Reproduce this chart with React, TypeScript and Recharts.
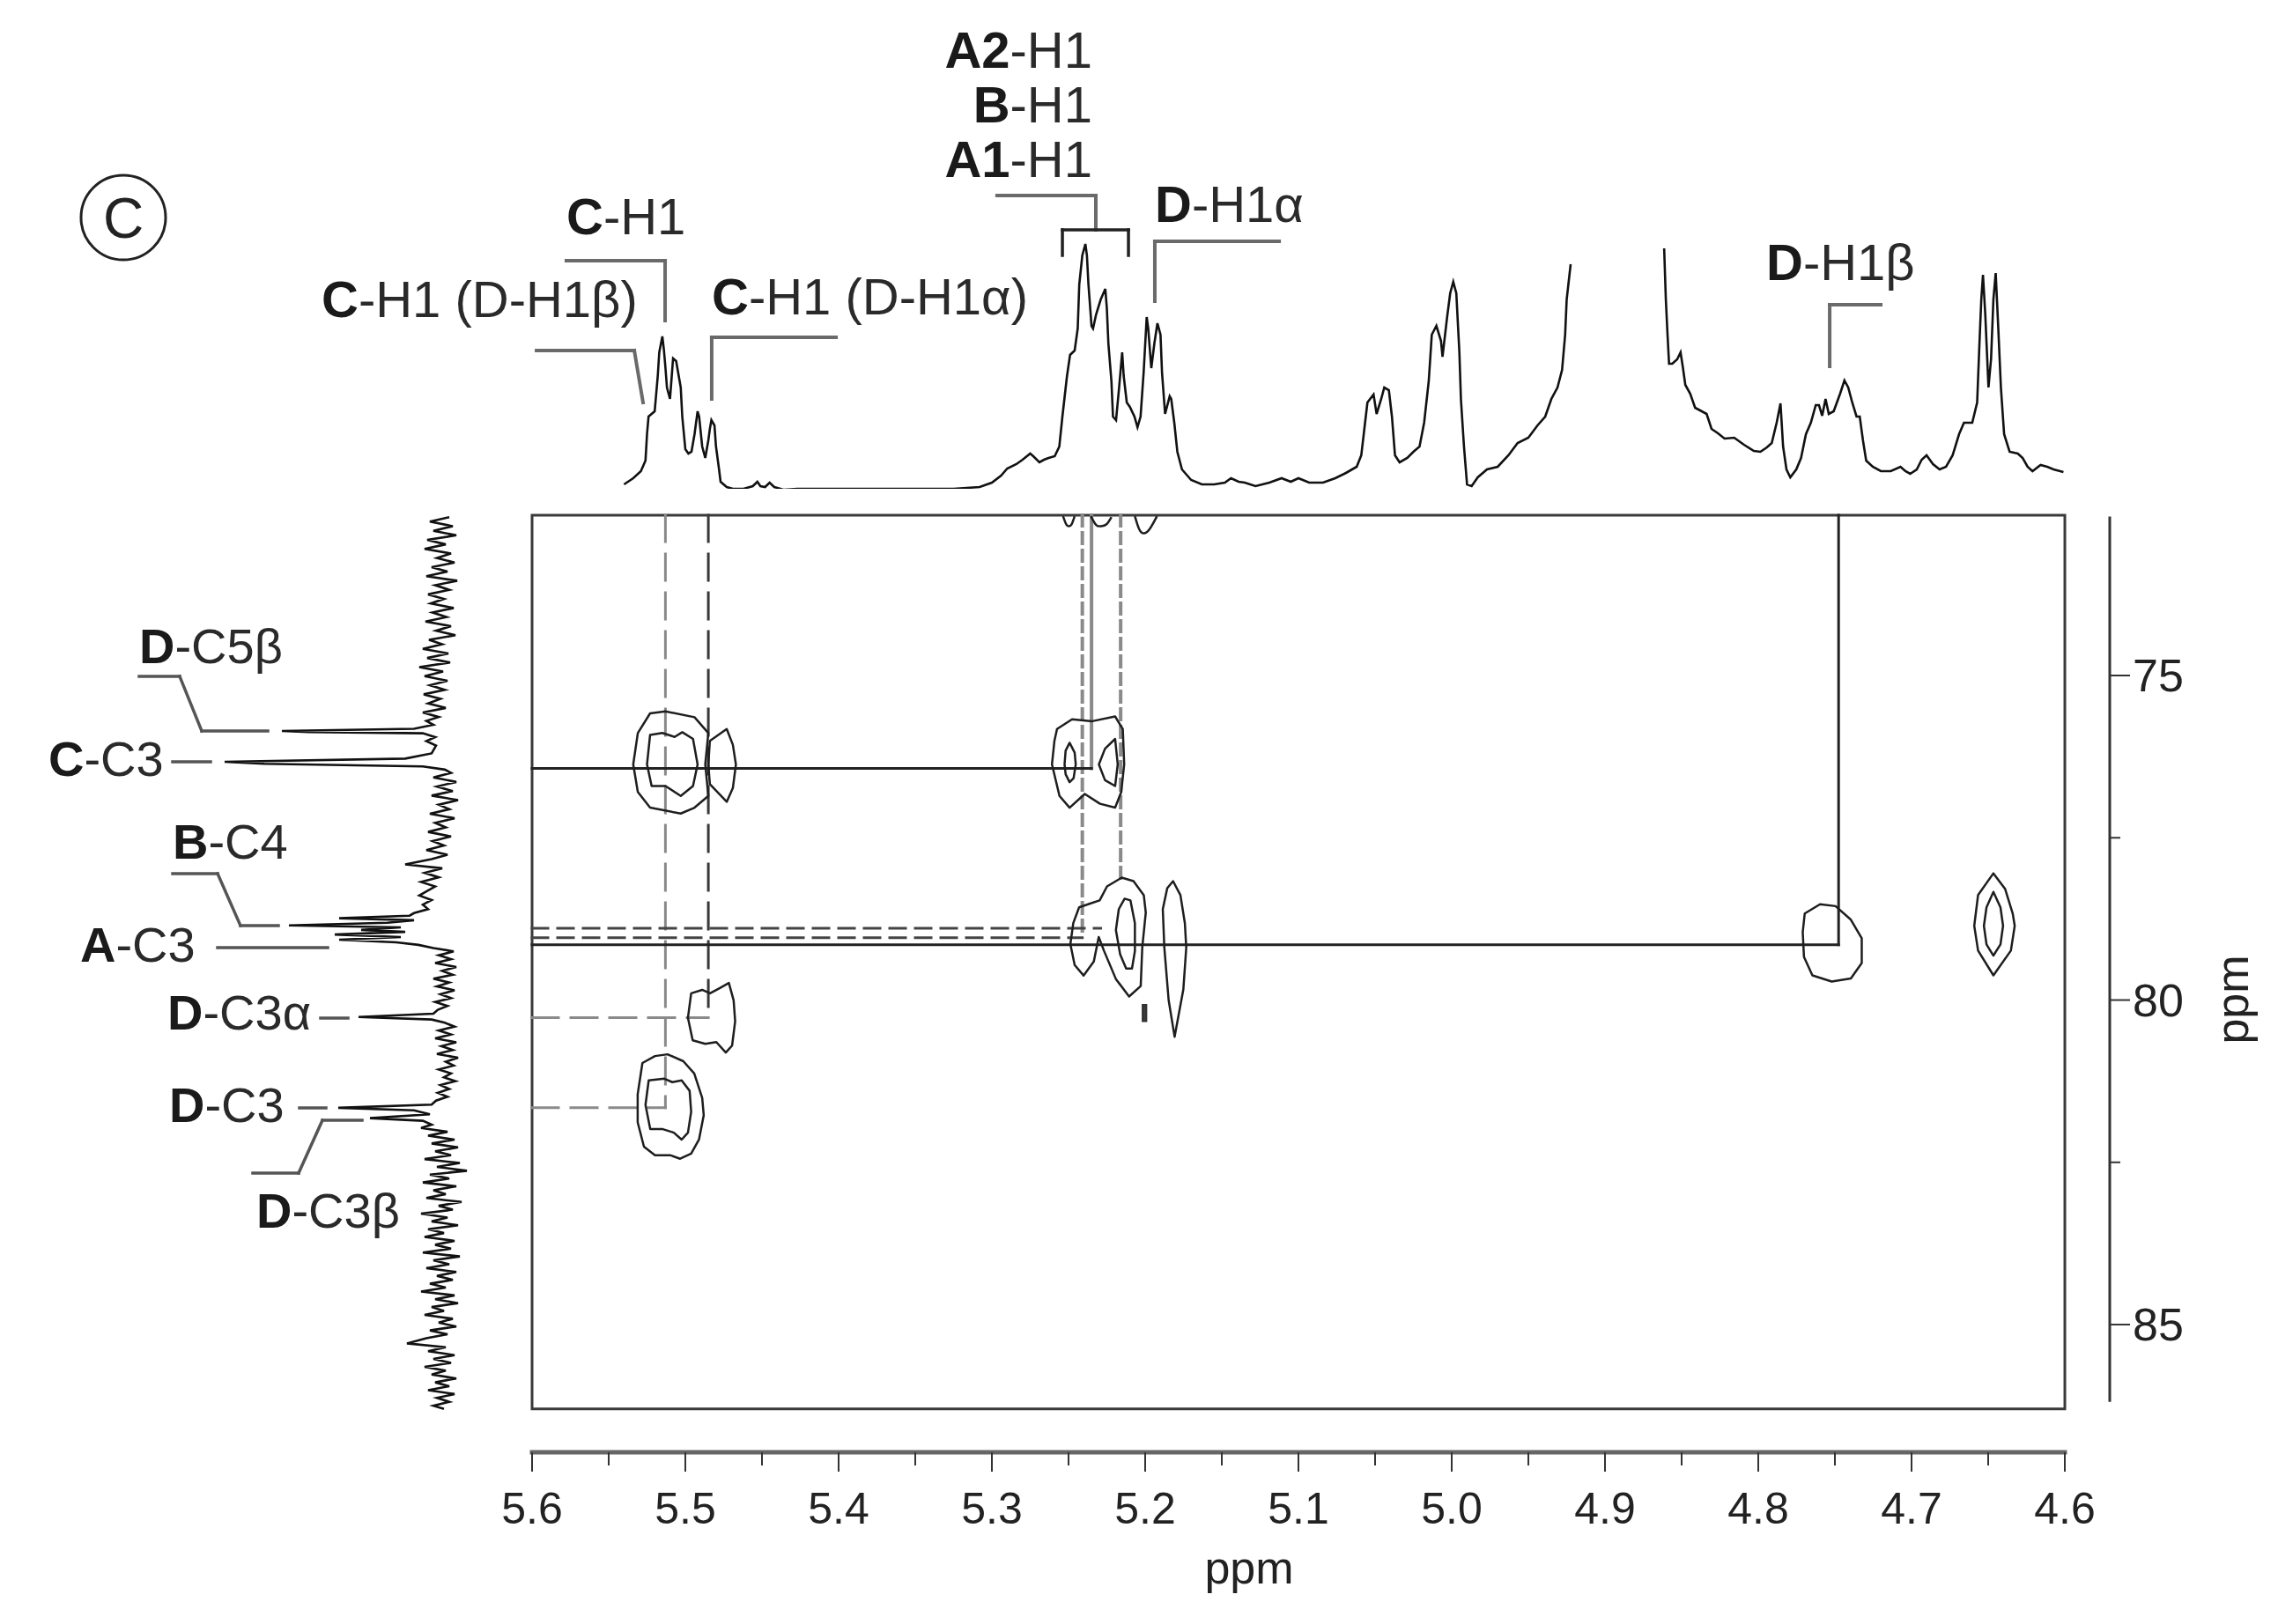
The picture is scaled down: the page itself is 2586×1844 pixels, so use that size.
import React from "react";
import {
  LineChart,
  Line,
  ScatterChart,
  Scatter,
  XAxis,
  YAxis,
  ReferenceLine,
  ReferenceArea,
} from "recharts";

const W = 2586;
const H = 1844;
const FONT = '"Liberation Sans", Arial, Helvetica, sans-serif';

// ---- axis ticks ----
const xTicks = [
  5.6, 5.55, 5.5, 5.45, 5.4, 5.35, 5.3, 5.25, 5.2, 5.15, 5.1, 5.05, 5.0, 4.95, 4.9, 4.85, 4.8, 4.75, 4.7,
  4.65, 4.6,
];
const yTicks = [75, 77.5, 80, 82.5, 85];

// ---- 1H projection on top: [ppm, intensity]; null = clipped water region ----
const protonTrace: [number, number | null][] = [
  [5.54, 5], [5.534, 12], [5.529, 20], [5.526, 32], [5.525, 62], [5.524, 82], [5.522, 85], [5.52, 88],
  [5.519, 108], [5.518, 128], [5.517, 155], [5.515, 173], [5.514, 158], [5.513, 138], [5.512, 115],
  [5.51, 102], [5.508, 148], [5.506, 145], [5.504, 125], [5.503, 115], [5.502, 82], [5.5, 45], [5.498, 40],
  [5.496, 42], [5.494, 62], [5.492, 88], [5.491, 82], [5.489, 48], [5.487, 35], [5.485, 55], [5.484, 68],
  [5.483, 78], [5.481, 72], [5.48, 48], [5.478, 22], [5.477, 8], [5.473, 2], [5.469, 0], [5.462, 0],
  [5.456, 3], [5.453, 8], [5.451, 3], [5.448, 2], [5.445, 7], [5.442, 2], [5.436, -1], [5.427, 0],
  [5.407, 0], [5.386, 0], [5.366, 0], [5.345, 0], [5.325, 0], [5.308, 2], [5.3, 7], [5.294, 15],
  [5.29, 23], [5.284, 28], [5.28, 33], [5.275, 40], [5.273, 37], [5.269, 30], [5.266, 33], [5.263, 35],
  [5.259, 37], [5.256, 48], [5.254, 82], [5.251, 128], [5.249, 152], [5.246, 157], [5.244, 182],
  [5.243, 232], [5.241, 265], [5.239, 278], [5.238, 265], [5.237, 232], [5.235, 185], [5.234, 182],
  [5.232, 198], [5.229, 215], [5.226, 227], [5.225, 205], [5.224, 165], [5.222, 122], [5.221, 82],
  [5.219, 78], [5.217, 115], [5.215, 155], [5.214, 128], [5.212, 98], [5.21, 93], [5.207, 82], [5.205, 70],
  [5.203, 82], [5.201, 132], [5.199, 195], [5.198, 182], [5.196, 137], [5.194, 165], [5.192, 188],
  [5.19, 175], [5.189, 132], [5.187, 85], [5.184, 105], [5.183, 102], [5.181, 75], [5.179, 42], [5.176, 22],
  [5.17, 10], [5.163, 5], [5.155, 5], [5.148, 7], [5.144, 12], [5.139, 8], [5.135, 7], [5.128, 3],
  [5.119, 7], [5.111, 12], [5.105, 8], [5.1, 12], [5.093, 7], [5.084, 7], [5.076, 12], [5.069, 18],
  [5.062, 25], [5.059, 38], [5.057, 68], [5.055, 98], [5.051, 107], [5.049, 85], [5.046, 102], [5.044, 115],
  [5.041, 112], [5.039, 82], [5.037, 38], [5.034, 30], [5.029, 35], [5.025, 42], [5.021, 48], [5.018, 75],
  [5.015, 122], [5.013, 175], [5.01, 185], [5.007, 168], [5.006, 150], [5.003, 195], [5.001, 222],
  [4.999, 235], [4.997, 222], [4.995, 155], [4.994, 102], [4.992, 48], [4.99, 5], [4.987, 3], [4.983, 13],
  [4.977, 22], [4.97, 25], [4.963, 38], [4.957, 52], [4.95, 58], [4.944, 72], [4.939, 82], [4.935, 102],
  [4.931, 115], [4.928, 135], [4.926, 175], [4.925, 215], [4.9224, 255],
  [4.89, null],
  [4.8614, 273], [4.8603, 215], [4.8592, 175], [4.8582, 142], [4.8561, 142], [4.8529, 147], [4.8507, 155],
  [4.8492, 138], [4.8476, 118], [4.8444, 108], [4.8412, 92], [4.8369, 88], [4.8337, 85], [4.8305, 68],
  [4.8263, 63], [4.822, 57], [4.8157, 58], [4.8093, 50], [4.8029, 43], [4.7986, 42], [4.7944, 47],
  [4.7912, 52], [4.788, 75], [4.7855, 97], [4.7838, 48], [4.7816, 22], [4.7791, 13], [4.7752, 22],
  [4.7721, 35], [4.7689, 62], [4.7657, 75], [4.7625, 95], [4.7604, 95], [4.7583, 83], [4.7561, 102],
  [4.754, 85], [4.7508, 88], [4.7487, 98], [4.7466, 108], [4.7438, 123], [4.7413, 115], [4.7387, 98],
  [4.7359, 82], [4.7338, 82], [4.7317, 55], [4.7296, 32], [4.7253, 25], [4.72, 20], [4.7136, 20],
  [4.7072, 25], [4.704, 20], [4.7009, 17], [4.6966, 22], [4.6934, 33], [4.6902, 38], [4.686, 28],
  [4.6817, 22], [4.6775, 25], [4.6732, 38], [4.669, 62], [4.6658, 75], [4.6604, 75], [4.6572, 98],
  [4.6557, 165], [4.6545, 215], [4.6534, 243], [4.6519, 198], [4.6498, 115], [4.6481, 148], [4.6466, 215],
  [4.6451, 245], [4.6434, 182], [4.6417, 115], [4.6396, 62], [4.636, 42], [4.6307, 40], [4.6275, 35],
  [4.6243, 25], [4.6211, 20], [4.6158, 27], [4.6115, 25], [4.6073, 22], [4.6009, 19],
];

// ---- 13C projection on the left: [ppm, intensity] ----
const carbonTrace: [number, number][] = [
  [72.56, -10], [72.63, 12], [72.7, -14], [72.77, 8], [72.84, -18], [72.91, 15], [72.98, -6], [73.05, 18],
  [73.12, -12], [73.19, 4], [73.26, -16], [73.33, 10], [73.4, -8], [73.47, 16], [73.54, -19], [73.61, 6],
  [73.68, -10], [73.75, 14], [73.82, -4], [73.89, 11], [73.96, -15], [74.03, 9], [74.1, -7], [74.17, 17],
  [74.24, -12], [74.31, 5], [74.38, -17], [74.45, 13], [74.52, -2], [74.59, 20], [74.66, -9], [74.73, 15],
  [74.8, -11], [74.87, 24], [74.94, -3], [75.01, 18], [75.08, -8], [75.15, 12], [75.22, -5], [75.29, 19],
  [75.36, 0], [75.43, 14], [75.5, -6], [75.57, 20], [75.64, 2], [75.7, 16], [75.76, 8],
  [75.82, 30], [75.855, 180], [75.87, 150], [75.89, 20], [75.95, 6], [76.01, 16], [76.08, 5], [76.2, 10],
  [76.28, 40], [76.33, 245], [76.36, 200], [76.4, 20], [76.45, -5],
  [76.5, -12], [76.57, 8], [76.64, -18], [76.71, 4], [76.78, -14], [76.85, 10], [76.92, -20], [76.99, 2],
  [77.06, -10], [77.13, 12], [77.2, -16], [77.27, 6], [77.34, -6], [77.41, 14], [77.48, -12], [77.55, 9],
  [77.62, -4], [77.69, 16], [77.76, -8], [77.83, 10], [77.91, 40], [77.97, -2], [78.04, 18], [78.11, 2],
  [78.18, 22], [78.25, 6], [78.32, 15], [78.39, 24], [78.46, 10], [78.53, 20], [78.6, 14], [78.66, 30],
  [78.7, 35], [78.74, 115], [78.77, 30], [78.81, 60], [78.85, 172], [78.88, 45], [78.92, 90], [78.95, 40],
  [78.99, 120], [79.03, 45], [79.07, 115], [79.11, 50], [79.15, 25], [79.2, 8],
  [79.25, -15], [79.31, 2], [79.37, -12], [79.43, 6], [79.49, -18], [79.55, -2], [79.61, -14], [79.67, 8],
  [79.73, -10], [79.79, 4], [79.85, -16], [79.91, 0], [79.97, -12], [80.03, 6], [80.09, -8], [80.15, 3],
  [80.21, 8], [80.26, 93], [80.3, 10], [80.35, -5],
  [80.41, -16], [80.47, 2], [80.53, -12], [80.59, 6], [80.65, -18], [80.71, -1], [80.77, -14], [80.83, 4],
  [80.89, -20], [80.95, -6], [81.01, -15], [81.07, 2], [81.13, -12], [81.19, -4], [81.25, -17], [81.31, 0],
  [81.37, -10], [81.43, 3], [81.49, -8], [81.55, 5], [81.61, 10],
  [81.66, 116], [81.7, 30], [81.76, 12], [81.82, 80], [81.86, 20], [81.92, 10], [81.97, 22],
  [82.03, -8], [82.09, 14], [82.15, -16], [82.21, 10], [82.27, -20], [82.33, 6], [82.39, -12], [82.45, 18],
  [82.51, -22], [82.57, 4], [82.63, -30], [82.69, 12], [82.75, -10], [82.81, 20], [82.87, -18], [82.93, 8],
  [82.99, -6], [83.05, 16], [83.11, -24], [83.17, 2], [83.23, -14], [83.29, 22], [83.35, -8], [83.41, 10],
  [83.47, -20], [83.53, 14], [83.59, -4], [83.65, 18], [83.71, -16], [83.77, 6], [83.83, -12], [83.89, 20],
  [83.95, -22], [84.01, 8], [84.07, -10], [84.13, 16], [84.19, -18], [84.25, 4], [84.31, -14], [84.37, 12],
  [84.43, -6], [84.49, 22], [84.55, -16], [84.61, 6], [84.67, -20], [84.73, 10], [84.79, -4], [84.85, 18],
  [84.91, -14], [84.97, 2], [85.03, -18], [85.09, 12], [85.15, -8], [85.21, 16], [85.29, 38], [85.35, -6],
  [85.41, 14], [85.47, -16], [85.53, 8], [85.59, -12], [85.65, 18], [85.71, -6], [85.77, 10], [85.83, -18],
  [85.89, 6], [85.95, -10], [86.01, 14], [86.07, -16], [86.13, 4], [86.19, -10], [86.25, 8], [86.3, -4],
];

// ---- 2D contours: [1H ppm, 13C ppm] ----
const cC3Outer: [number, number][] = [
  [5.485, 75.886], [5.494, 75.643], [5.513, 75.553], [5.523, 75.583], [5.531, 75.886], [5.534, 76.37],
  [5.531, 76.794], [5.523, 77.036], [5.503, 77.127], [5.494, 77.036], [5.485, 76.855], [5.487, 76.37],
];
const cC3Lobe: [number, number][] = [
  [5.484, 76.007], [5.473, 75.825], [5.469, 76.067], [5.467, 76.37], [5.469, 76.734], [5.473, 76.946],
  [5.484, 76.673], [5.485, 76.37],
];
const cC3Inner: [number, number][] = [
  [5.523, 75.916], [5.515, 75.886], [5.507, 75.946], [5.502, 75.874], [5.495, 75.977], [5.492, 76.37],
  [5.495, 76.703], [5.503, 76.855], [5.513, 76.703], [5.522, 76.703], [5.525, 76.37],
];
const ab76Outer: [number, number][] = [
  [5.2575, 75.825], [5.2477, 75.674], [5.2345, 75.704], [5.2196, 75.631], [5.2146, 75.825], [5.2137, 76.37],
  [5.2156, 76.794], [5.2196, 77.036], [5.2295, 76.976], [5.2394, 76.825], [5.2493, 77.036], [5.2559, 76.855],
  [5.2608, 76.37], [5.2592, 76.007],
];
const ab76InnerL: [number, number][] = [
  [5.2493, 76.037], [5.246, 76.189], [5.2453, 76.37], [5.2467, 76.582], [5.2493, 76.643], [5.2519, 76.522],
  [5.2526, 76.37], [5.2519, 76.158],
];
const ab76InnerR: [number, number][] = [
  [5.2196, 75.977], [5.2179, 76.37], [5.2196, 76.703], [5.2262, 76.613], [5.2302, 76.37], [5.2262, 76.128],
];
const bc4Outer: [number, number][] = [
  [5.2469, 78.815], [5.2431, 78.572], [5.2364, 78.518], [5.2297, 78.465], [5.2249, 78.249], [5.2153, 78.114],
  [5.2076, 78.168], [5.2009, 78.384], [5.1996, 78.653], [5.2019, 79.192], [5.2029, 79.784], [5.2105, 79.946],
  [5.2191, 79.676], [5.2268, 79.245], [5.2303, 79.03], [5.2335, 79.407], [5.2402, 79.622], [5.246, 79.461],
  [5.2488, 79.138],
];
const bc4Inner: [number, number][] = [
  [5.2172, 78.599], [5.2134, 78.438], [5.2096, 78.465], [5.2067, 78.815], [5.2067, 79.245], [5.2086, 79.514],
  [5.2124, 79.514], [5.2163, 79.299], [5.2191, 78.922],
];
const narrow518: [number, number][] = [
  [5.1818, 78.168], [5.177, 78.384], [5.1741, 78.815], [5.1732, 79.192], [5.1751, 79.838], [5.1808, 80.565],
  [5.1847, 80.0], [5.1875, 79.192], [5.1885, 78.599], [5.1856, 78.276],
];
const speck520: [number, number][] = [[5.2014, 80.08], [5.1995, 80.08], [5.1995, 80.32], [5.2014, 80.32]];
const dC3a: [number, number][] = [
  [5.4962, 79.897], [5.489, 79.843], [5.4839, 79.897], [5.4777, 79.817], [5.4716, 79.736], [5.4685, 80.004],
  [5.4675, 80.326], [5.4695, 80.702], [5.4736, 80.809], [5.4798, 80.648], [5.487, 80.675], [5.4952, 80.621],
  [5.4983, 80.273],
];
const dC3Outer: [number, number][] = [
  [5.528, 80.97], [5.5198, 80.863], [5.5116, 80.836], [5.5013, 80.943], [5.4942, 81.131], [5.489, 81.507],
  [5.488, 81.775], [5.4911, 82.15], [5.4962, 82.365], [5.5034, 82.445], [5.5096, 82.392], [5.5198, 82.392],
  [5.527, 82.258], [5.5311, 81.882], [5.5311, 81.453],
];
const dC3Inner: [number, number][] = [
  [5.5239, 81.238], [5.5137, 81.211], [5.5085, 81.265], [5.5024, 81.238], [5.4972, 81.399], [5.4962, 81.721],
  [5.4983, 82.043], [5.5024, 82.15], [5.5075, 82.043], [5.5147, 81.989], [5.5229, 81.989], [5.526, 81.614],
];
const dH1b: [number, number][] = [
  [4.7697, 78.667], [4.7597, 78.524], [4.7496, 78.553], [4.7396, 78.762], [4.7325, 79.048], [4.7325, 79.429],
  [4.7396, 79.667], [4.7521, 79.715], [4.7647, 79.62], [4.7702, 79.334], [4.771, 78.953],
];
const p464Outer: [number, number][] = [
  [4.6466, 78.048], [4.639, 78.286], [4.634, 78.667], [4.6327, 78.857], [4.6352, 79.238], [4.6466, 79.62],
  [4.6566, 79.238], [4.6591, 78.857], [4.6566, 78.381],
];
const p464Inner: [number, number][] = [
  [4.6466, 78.334], [4.642, 78.572], [4.6403, 78.857], [4.642, 79.143], [4.6466, 79.315], [4.6511, 79.143],
  [4.6528, 78.857], [4.6511, 78.572],
];
// contours cut by the upper edge of the spectrum
const edgeA: [number, number][] = [[5.2536, 72.545], [5.2515, 72.67], [5.2498, 72.7], [5.248, 72.67], [5.246, 72.545]];
const edgeB: [number, number][] = [[5.2354, 72.545], [5.232, 72.68], [5.2287, 72.7], [5.2252, 72.67], [5.222, 72.56]];
const edgeC: [number, number][] = [[5.2067, 72.545], [5.204, 72.74], [5.2009, 72.81], [5.197, 72.74], [5.1923, 72.545]];

const closedContours = [
  cC3Outer, cC3Lobe, cC3Inner, ab76Outer, ab76InnerL, ab76InnerR, bc4Outer, bc4Inner, narrow518,
  dC3a, dC3Outer, dC3Inner, dH1b, p464Outer, p464Inner,
];
const openContours = [edgeA, edgeB, edgeC];

// ---- correlation guide lines, [1H ppm, 13C ppm] pairs ----
const longDashGray: [number, number][][] = [
  [[5.513, 72.53], [5.513, 81.66]],
  [[5.6, 80.27], [5.485, 80.27]],
  [[5.6, 81.66], [5.513, 81.66]],
];
const longDashDark: [number, number][][] = [[[5.485, 72.53], [5.485, 80.27]]];
const shortDashGray: [number, number][][] = [
  [[5.241, 72.53], [5.241, 79.04]],
  [[5.216, 72.53], [5.216, 78.2]],
];
const shortDashDark: [number, number][][] = [
  [[5.6, 78.895], [5.229, 78.895]],
  [[5.6, 79.04], [5.241, 79.04]],
];
const solidDark: [number, number][][] = [
  [[5.6, 76.43], [5.235, 76.43]],
  [[5.6, 79.15], [4.7476, 79.15]],
  [[4.7476, 72.53], [4.7476, 79.15]],
];
const solidGray: [number, number][][] = [[[5.235, 72.53], [5.235, 76.43]]];

// ---- leader lines on the projections ----
const topLeaders: [number, number][][] = [
  [[5.5776, 259], [5.5132, 259], [5.5132, 191]],
  [[5.5971, 157], [5.5333, 157], [5.5276, 98]],
  [[5.4017, 172], [5.4828, 172], [5.4828, 102]],
  [[5.2966, 333], [5.2322, 333], [5.2322, 294]],
  [[5.1126, 281], [5.1937, 281], [5.1937, 213]],
  [[4.7201, 209], [4.7534, 209], [4.7534, 139]],
];
const topBracket: [number, number][] = [[5.254, 265], [5.254, 294], [5.2109, 294], [5.2109, 265]];
const leftLeaders: [number, number][][] = [
  [[342, 75.014], [296, 75.014], [271, 75.855], [196, 75.855]],
  [[304, 76.33], [261, 76.33]],
  [[304, 78.053], [253, 78.053], [227, 78.853], [184, 78.853]],
  [[253, 79.193], [128, 79.193]],
  [[136, 80.278], [105, 80.278]],
  [[160, 81.662], [130, 81.662]],
  [[213, 82.666], [161, 82.666], [134, 81.852], [89, 81.852]],
];

const Y_DOMAIN: [number, number] = [72.5305, 86.967];

const pairs = (pl: [number, number][]) => pl.slice(1).map((p, i) => [pl[i], p] as const);
const toXY = (pts: [number, number][]) => pts.map(([x, y]) => ({ x, y }));
const NoDot = () => <g />;

const XTick = ({ x, y, payload }: any) => {
  const v = payload.value as number;
  const major = Math.round(v * 100) % 10 === 0;
  return (
    <g>
      <line x1={x} y1={y} x2={x} y2={y + (major ? 22 : 15)} stroke="#333" strokeWidth={2} />
      {major && (
        <text x={x} y={y + 81} textAnchor="middle" fontSize={50} fontFamily={FONT} fill="#222">
          {v.toFixed(1)}
        </text>
      )}
    </g>
  );
};

const YTick = ({ x, y, payload }: any) => {
  const v = payload.value as number;
  const major = v % 5 === 0;
  return (
    <g>
      <line x1={x} y1={y} x2={x + (major ? 23 : 12)} y2={y} stroke="#333" strokeWidth={2} />
      {major && (
        <text x={x + 26} y={y + 18} fontSize={52} fontFamily={FONT} fill="#222">
          {v}
        </text>
      )}
    </g>
  );
};

const segLines = (
  list: [number, number][][],
  stroke: string,
  width: number,
  dash?: string,
  keyBase = "s",
) =>
  list.flatMap((pl, i) =>
    pairs(pl).map(([a, b], j) => (
      <ReferenceLine
        key={`${keyBase}-${i}-${j}`}
        segment={[{ x: a[0], y: a[1] }, { x: b[0], y: b[1] }]}
        stroke={stroke}
        strokeWidth={width}
        strokeDasharray={dash}
        strokeLinecap="square"
        ifOverflow="visible"
      />
    )),
  );

function Label({ x, y, bold, rest, size, anchor = "start" }: any) {
  return (
    <text x={x} y={y} fontSize={size} fontFamily={FONT} fill="#2a2a2a" textAnchor={anchor}>
      <tspan fontWeight="bold" fill="#1a1a1a">{bold}</tspan>
      <tspan>{rest}</tspan>
    </text>
  );
}

export default function App() {
  const protonData = protonTrace.map(([ppm, i]) => ({ ppm, i }));
  const carbonData = carbonTrace.map(([ppm, v]) => ({ ppm, v }));

  return (
    <div style={{ position: "relative", width: W, height: H, background: "#fff" }}>
      <style>{"body{margin:0;background:#fff}"}</style>

      {/* 1H projection */}
      <div style={{ position: "absolute", left: 0, top: 0 }}>
        <LineChart width={W} height={560} data={protonData} margin={{ top: 0, right: 242, bottom: 5, left: 604 }}>
          <XAxis type="number" dataKey="ppm" domain={[4.6, 5.6]} reversed hide allowDataOverflow />
          <YAxis type="number" domain={[0, 555]} hide allowDataOverflow />
          <Line
            type="linear"
            dataKey="i"
            stroke="#111"
            strokeWidth={2.6}
            dot={false}
            isAnimationActive={false}
            connectNulls={false}
          />
          {segLines(topLeaders, "#6a6a6a", 4, undefined, "tl")}
          {segLines([topBracket], "#222", 3.5, undefined, "tb")}
        </LineChart>
      </div>

      {/* 13C projection */}
      <div style={{ position: "absolute", left: 0, top: 0 }}>
        <ScatterChart width={560} height={H} margin={{ top: 585, right: 20, bottom: 195, left: 0 }}>
          <XAxis type="number" dataKey="v" domain={[-40, 500]} reversed hide allowDataOverflow />
          <YAxis type="number" dataKey="ppm" domain={Y_DOMAIN} reversed hide allowDataOverflow />
          <Scatter
            data={carbonData}
            line={{ stroke: "#111", strokeWidth: 2.6 }}
            lineJointType="linear"
            shape={NoDot}
            isAnimationActive={false}
          />
          {leftLeaders.flatMap((pl, i) =>
            pairs(pl).map(([a, b], j) => (
              <ReferenceLine
                key={`ll-${i}-${j}`}
                segment={[{ x: a[0], y: a[1] }, { x: b[0], y: b[1] }]}
                stroke="#555"
                strokeWidth={3.5}
                strokeLinecap="square"
                ifOverflow="visible"
              />
            )),
          )}
        </ScatterChart>
      </div>

      {/* 2D map with axes */}
      <div style={{ position: "absolute", left: 0, top: 0 }}>
        <ScatterChart width={W} height={H} margin={{ top: 585, right: 31, bottom: 25, left: 604 }}>
          <XAxis
            type="number"
            dataKey="x"
            domain={[4.5707, 5.6]}
            reversed
            allowDataOverflow
            ticks={xTicks}
            interval={0}
            tick={(p: any) => <XTick {...p} />}
            tickLine={false}
            axisLine={false}
            tickSize={0}
            tickMargin={0}
            height={170}
          />
          <YAxis
            type="number"
            dataKey="y"
            orientation="right"
            domain={Y_DOMAIN}
            reversed
            allowDataOverflow
            ticks={yTicks}
            interval={0}
            tick={(p: any) => <YTick {...p} />}
            tickLine={false}
            axisLine={false}
            tickSize={0}
            tickMargin={0}
            width={160}
          />
          <ReferenceArea
            x1={5.6}
            x2={4.6}
            y1={Y_DOMAIN[0]}
            y2={86.3}
            fill="none"
            fillOpacity={0}
            stroke="#3a3a3a"
            strokeWidth={3}
            ifOverflow="visible"
          />
          {segLines(longDashGray, "#8a8a8a", 3, "30 14", "lg")}
          {segLines(longDashDark, "#3a3a3a", 3, "30 14", "ld")}
          {segLines(shortDashGray, "#8a8a8a", 4, "12 8", "sg")}
          {segLines(shortDashDark, "#444", 3, "18 11", "sd")}
          {segLines(solidGray, "#8a8a8a", 4, undefined, "og")}
          {segLines(solidDark, "#222", 3, undefined, "od")}
          {/* axis lines */}
          {segLines([[[5.6, Y_DOMAIN[1]], [4.6, Y_DOMAIN[1]]]], "#666", 5, undefined, "ax")}
          {segLines([[[4.5707, 72.57], [4.5707, 86.17]]], "#333", 3, undefined, "ay")}
          {closedContours.map((c, i) => (
            <Scatter
              key={`c${i}`}
              data={toXY(c)}
              line={{ stroke: "#1e1e1e", strokeWidth: 2.5, fill: "none", strokeLinejoin: "round" }}
              lineJointType="linearClosed"
              shape={NoDot}
              isAnimationActive={false}
            />
          ))}
          <Scatter
            data={toXY(speck520)}
            line={{ stroke: "#333", strokeWidth: 3, fill: "#555" }}
            lineJointType="linearClosed"
            shape={NoDot}
            isAnimationActive={false}
          />
          {openContours.map((c, i) => (
            <Scatter
              key={`e${i}`}
              data={toXY(c)}
              line={{ stroke: "#1e1e1e", strokeWidth: 2.5, fill: "none" }}
              lineJointType="natural"
              shape={NoDot}
              isAnimationActive={false}
            />
          ))}
        </ScatterChart>
      </div>

      {/* annotations */}
      <svg
        width={W}
        height={H}
        style={{ position: "absolute", left: 0, top: 0, pointerEvents: "none" }}
      >
        <circle cx={140} cy={247} r={48} fill="none" stroke="#222" strokeWidth={3} />
        <text x={140} y={270} textAnchor="middle" fontSize={64} fontFamily={FONT} fill="#222">
          C
        </text>

        <Label x={1240} y={77} bold="A2" rest="-H1" size={58} anchor="end" />
        <Label x={1240} y={139} bold="B" rest="-H1" size={58} anchor="end" />
        <Label x={1240} y={201} bold="A1" rest="-H1" size={58} anchor="end" />
        <Label x={643} y={266} bold="C" rest="-H1" size={58} />
        <Label x={365} y={360} bold="C" rest="-H1 (D-H1β)" size={58} />
        <Label x={808} y={357} bold="C" rest="-H1 (D-H1α)" size={58} />
        <Label x={1311} y={252} bold="D" rest="-H1α" size={58} />
        <Label x={2005} y={318} bold="D" rest="-H1β" size={58} />

        <Label x={158} y={753} bold="D" rest="-C5β" size={56} />
        <Label x={55} y={881} bold="C" rest="-C3" size={56} />
        <Label x={196} y={975} bold="B" rest="-C4" size={56} />
        <Label x={91} y={1092} bold="A" rest="-C3" size={56} />
        <Label x={190} y={1169} bold="D" rest="-C3α" size={56} />
        <Label x={192} y={1274} bold="D" rest="-C3" size={56} />
        <Label x={291} y={1394} bold="D" rest="-C3β" size={56} />

        <text x={1418} y={1798} textAnchor="middle" fontSize={52} fontFamily={FONT} fill="#222">
          ppm
        </text>
        <text
          x={2534}
          y={1135}
          textAnchor="middle"
          fontSize={52}
          fontFamily={FONT}
          fill="#222"
          transform="rotate(-90 2534 1135)"
          dy={18}
        >
          ppm
        </text>
      </svg>
    </div>
  );
}
